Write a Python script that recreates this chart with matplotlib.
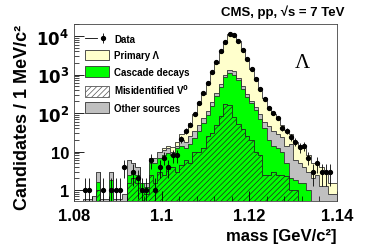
import numpy as np
import matplotlib
matplotlib.use("Agg")
import matplotlib.pyplot as plt
from matplotlib.patches import Patch
from matplotlib.lines import Line2D
from matplotlib.legend_handler import HandlerTuple
from matplotlib.ticker import FixedLocator, MultipleLocator, LogLocator, NullFormatter

plt.rcParams['font.family'] = ['Liberation Sans', 'DejaVu Sans']
plt.rcParams['font.weight'] = 'bold'
plt.rcParams['hatch.linewidth'] = 0.5

# 1 MeV bins from 1.080 to 1.140 GeV
edges = np.round(np.arange(1.080, 1.1405, 0.001), 3)

data = [0, 0, 1, 1, 0, 0, 1, 0, 1, 1, 1, 4, 0, 3, 2, 1, 1, 6, 1, 4,
        7, 4, 8, 8, 21, 34, 50, 95, 180, 330, 620, 1150, 2100, 4000, 7000, 11500, 10500, 7500, 4300, 2500,
        1400, 780, 420, 230, 135, 100, 75, 41, 34, 24, 18, 13, 14, 7, 3, 5, 3, 3, 3, 0]

misid = [0, 0, 0, 0, 0, 1, 0, 0, 0, 0, 0, 0, 1.5, 2, 1.5, 1, 0.8, 2.5, 1.5, 3,
         2.5, 3.5, 4, 3, 4.5, 6, 5, 10, 10, 12, 25, 30, 50, 85, 170, 160, 80, 52, 38, 25,
         20, 10, 8, 2.5, 2.5, 3, 2.5, 2.5, 2.3, 1, 1, 0, 0, 0, 0, 0, 0, 0, 0, 0]

cascade = [0, 0, 0, 0, 0, 0.6, 0, 0, 1.8, 0, 0, 0, 1, 1, 1, 0.5, 0.4, 2.5, 3.5, 4,
           5.5, 5.5, 4, 9, 9.5, 6, 11, 12, 25, 43, 65, 120, 220, 395, 680, 940, 920, 648, 382, 235,
           160, 110, 62, 37.5, 17.5, 11, 9.5, 7.5, 2.7, 1, 0.8, 1.5, 1.5, 1, 0, 0, 0, 0, 0, 0]

other = [0, 0, 0.6, 0.6, 0.7, 1.4, 0.6, 0.6, 1.2, 0.6, 0.6, 0.8, 3.5, 2, 1.5, 0, 0.3, 2, 2, 3,
         3, 3, 2, 2, 6, 6, 9, 13, 15, 20, 25, 40, 60, 100, 150, 200, 200, 130, 80, 50,
         30, 25, 25, 20, 25, 21, 16, 14, 9, 14, 4.2, 3.5, 2.5, 2, 2, 2.5, 1.3, 1.3, 0.8, 0.8]

primary = [0, 0, 0, 0, 0, 0, 0, 0, 0, 0, 0, 0, 0, 0, 0, 0, 0, 0, 0, 0,
           1, 2, 3, 4, 8, 18, 30, 60, 125, 245, 485, 910, 1670, 3220, 5800, 9700, 9300, 6570, 3800, 2190,
           1190, 655, 345, 180, 95, 60, 42, 24, 22, 12, 12, 9, 8, 5, 3, 2.5, 2.7, 1.7, 0.7, 0.7]

labels = ["Data", "Primary \u039b", "Cascade decays", "Misidentified V$^{0}$", "Other sources"]

lvl_h = np.array(misid, float)
lvl_g = lvl_h + np.array(cascade, float)
lvl_o = lvl_g + np.array(other, float)
lvl_y = lvl_o + np.array(primary, float)

fig = plt.figure(figsize=(3.74, 2.53), dpi=100)
ax = fig.add_axes([0.198, 0.2016, 0.703, 0.6996])
ax.set_yscale('log')

base = 1e-3
ax.stairs(lvl_y, edges, baseline=base, fill=True, color='#ffffcc')
ax.stairs(lvl_y, edges, baseline=base, color='#333333', lw=0.6)
ax.stairs(lvl_o, edges, baseline=base, fill=True, color='#c0c0c0')
ax.stairs(lvl_o, edges, baseline=base, color='#333333', lw=0.6)
ax.stairs(lvl_g, edges, baseline=base, fill=True, color='#00ff00')
ax.stairs(lvl_g, edges, baseline=base, color='#333333', lw=0.6)
ax.stairs(lvl_h, edges, baseline=base, fill=True, facecolor='none',
          edgecolor='#222222', hatch='//////', lw=0)
ax.stairs(lvl_h, edges, baseline=base, color='#222222', lw=0.6)

d = np.array(data, float)
centers = 0.5 * (edges[:-1] + edges[1:])
m = d > 0
err = np.sqrt(d[m])
lo = np.minimum(err, d[m] * 0.999)
eb = ax.errorbar(centers[m], d[m], yerr=[lo, err], fmt='o', color='black',
                 ms=2.8, elinewidth=0.6, capsize=0)

ax.set_xlim(1.08, 1.14)
ax.set_ylim(0.52, 2.05e4)

ax.xaxis.set_major_locator(FixedLocator([1.08, 1.10, 1.12, 1.14]))
ax.set_xticklabels(["1.08", "1.1", "1.12", "1.14"])
ax.xaxis.set_minor_locator(MultipleLocator(0.004))
ax.yaxis.set_major_locator(FixedLocator([1, 10, 100, 1000, 10000]))
ax.set_yticklabels(["1", "10", r"$\mathbf{10^{2}}$", r"$\mathbf{10^{3}}$", r"$\mathbf{10^{4}}$"])
ax.yaxis.set_minor_locator(LogLocator(base=10, subs=np.arange(2, 10)))
ax.yaxis.set_minor_formatter(NullFormatter())
ax.tick_params(which='both', direction='in', top=False, right=False, labelsize=12)
ax.tick_params(which='major', length=7, width=0.6)
ax.tick_params(which='minor', length=3.5, width=0.5)
ax.tick_params(axis='x', pad=5)
for s in ax.spines.values():
    s.set_linewidth(0.6)
    s.set_color('#444444')

ax.set_xlabel("mass [GeV/c\u00b2]", loc='right', fontsize=12, fontweight='bold', labelpad=4)
ax.set_ylabel("Candidates / 1 MeV/c\u00b2", loc='top', fontsize=13, fontweight='bold')
ax.yaxis.set_label_coords(-0.165, 1.0)

fig.text(0.755, 0.95, "CMS, pp, \u221as = 7 TeV", ha='center', va='center',
         fontsize=9.5, fontweight='bold')
ax.text(0.87, 0.78, "\u039b", transform=ax.transAxes, ha='center', va='center',
        fontsize=15, family=['Liberation Serif', 'DejaVu Serif'], fontweight='normal')

hline = Line2D([], [], color='black', lw=0.6)
handles = [
    (hline, eb),
    Patch(facecolor='#ffffcc', edgecolor='#333333', lw=0.6),
    Patch(facecolor='#00ff00', edgecolor='#333333', lw=0.6),
    Patch(facecolor='white', edgecolor='#555555', hatch='//////', lw=0.6),
    Patch(facecolor='#c0c0c0', edgecolor='#333333', lw=0.6),
]
ax.legend(handles, labels, loc='upper left', bbox_to_anchor=(0.02, 0.98),
          frameon=False, fontsize=7, handlelength=2.5, handleheight=1.3,
          labelspacing=0.6, handletextpad=0.5, borderaxespad=0.2,
          handler_map={tuple: HandlerTuple(ndivide=None, pad=0)})

fig.savefig("out.png", dpi=100)
